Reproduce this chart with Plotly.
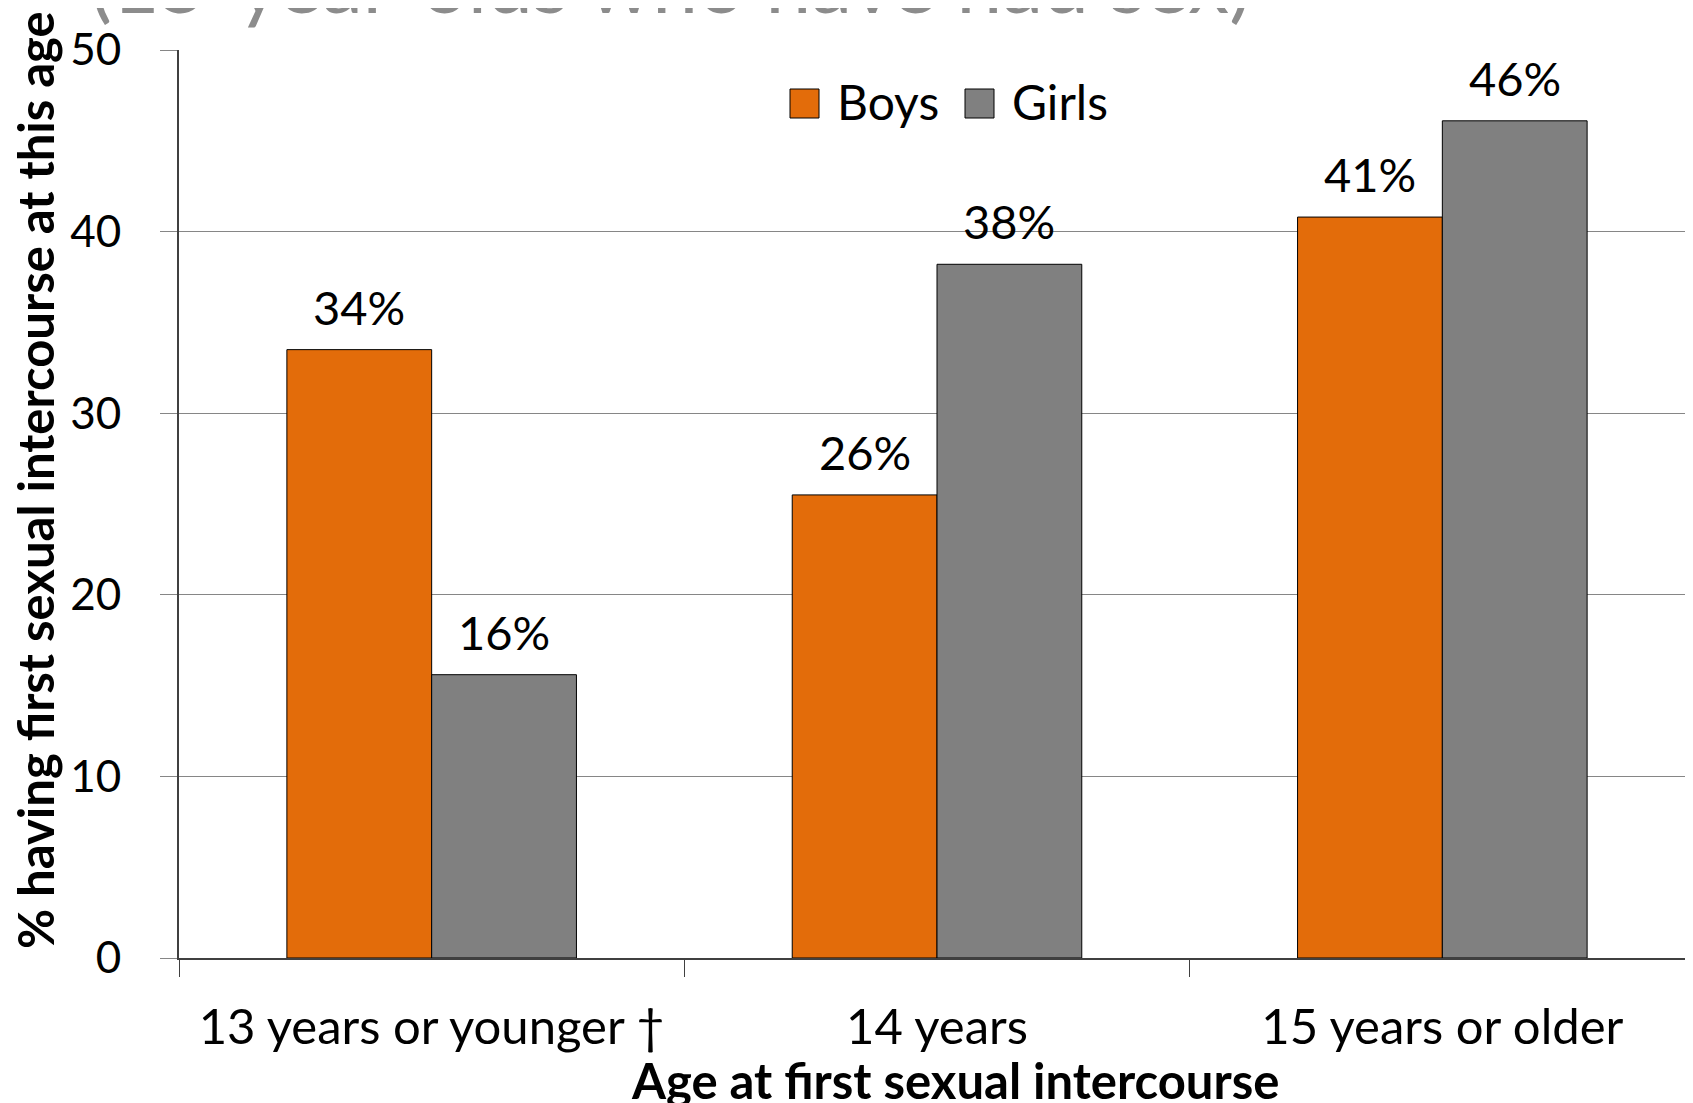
import plotly.graph_objects as go

categories = ["13 years or younger \u2020", "14 years", "15 years or older"]
boys = [33.5, 25.5, 40.8]
girls = [15.6, 38.2, 46.1]
boys_labels = ["34%", "26%", "41%"]
girls_labels = ["16%", "38%", "46%"]
y_ticks = [0, 10, 20, 30, 40, 50]
series_names = ["Boys", "Girls"]

FONT = "Lato"
ORANGE = "#E36C0A"
GRAY = "#808080"
colors = [ORANGE, GRAY]

W, H = 1693, 1103
ml, mt, mb, mr = 171, 42, 153, 6
plot_w = W - ml - mr
plot_h = H - mt - mb


def px_x(x):
    return (x - ml) / plot_w


def px_y(y):
    return (H - mb - y) / plot_h


fig = go.Figure()
fig.add_trace(go.Bar(name="Boys", x=categories, y=boys, showlegend=False,
                     marker=dict(color=ORANGE, line=dict(color="#000000", width=1))))
fig.add_trace(go.Bar(name="Girls", x=categories, y=girls, showlegend=False,
                     marker=dict(color=GRAY, line=dict(color="#000000", width=1))))

cat_w = plot_w / len(categories)
bargap = 0.427
bar_w = cat_w * (1 - bargap) / 2

annotations = []
for i, c in enumerate(categories):
    for vals, labs, sign in ((boys, boys_labels, -1), (girls, girls_labels, 1)):
        annotations.append(dict(x=c, y=vals[i], xref="x", yref="y", text=labs[i], showarrow=False,
                                xshift=sign * bar_w / 2, yshift=43, yanchor="middle",
                                font=dict(family=FONT, size=47, color="#000000")))

# partially visible slide subtitle at top
annotations.append(dict(text="(15-year-olds who have had sex)", xref="paper", yref="paper",
                        x=px_x(80), y=px_y(24), xanchor="left", yanchor="bottom",
                        showarrow=False, font=dict(family=FONT, size=82, color="#8C8C8C")))
# x axis title
annotations.append(dict(text="<b>Age at first sexual intercourse</b>", xref="paper", yref="paper",
                        x=px_x(947), y=px_y(1072), xanchor="center", yanchor="middle",
                        showarrow=False, font=dict(family=FONT, size=49, color="#000000")))
# y axis title
annotations.append(dict(text="<b>% having first sexual intercourse at this age</b>", xref="paper", yref="paper",
                        x=px_x(27), y=px_y(472), xanchor="center", yanchor="middle", textangle=-90,
                        showarrow=False, font=dict(family=FONT, size=49, color="#000000")))

# manual legend
shapes = []
legend_sq = [(782, 811), (957, 986)]
legend_tx = [827, 1002]
for name, col, (x0, x1), tx in zip(series_names, colors, legend_sq, legend_tx):
    shapes.append(dict(type="rect", xref="paper", yref="paper", x0=px_x(x0), x1=px_x(x1),
                       y0=px_y(110), y1=px_y(81), fillcolor=col, line=dict(color="#000000", width=1)))
    annotations.append(dict(text=name, xref="paper", yref="paper", x=px_x(tx), y=px_y(93),
                            xanchor="left", yanchor="middle", showarrow=False,
                            font=dict(family=FONT, size=48, color="#000000")))

fig.update_layout(
    width=W, height=H,
    margin=dict(l=ml, r=mr, t=mt, b=mb, pad=0, autoexpand=False),
    paper_bgcolor="white", plot_bgcolor="white",
    barmode="group", bargap=bargap, bargroupgap=0,
    font=dict(family=FONT, size=44, color="#000000"),
    showlegend=False,
    annotations=annotations,
    shapes=shapes,
    xaxis=dict(showline=True, linecolor="#404040", linewidth=2, ticks="outside", tickson="boundaries",
               ticklen=17, tickcolor="#404040", tickwidth=1, showgrid=False, automargin=False,
               tickfont=dict(family=FONT, size=49), ticklabelstandoff=25),
    yaxis=dict(range=[0, 50], tickvals=y_ticks, showline=True, linecolor="#404040", linewidth=2,
               ticks="outside", ticklen=17, tickcolor="#868686", showgrid=True, gridcolor="#868686",
               gridwidth=1, tickfont=dict(family=FONT, size=44), ticklabelstandoff=30,
               automargin=False, zeroline=False),
)

fig.write_html("out.html")
